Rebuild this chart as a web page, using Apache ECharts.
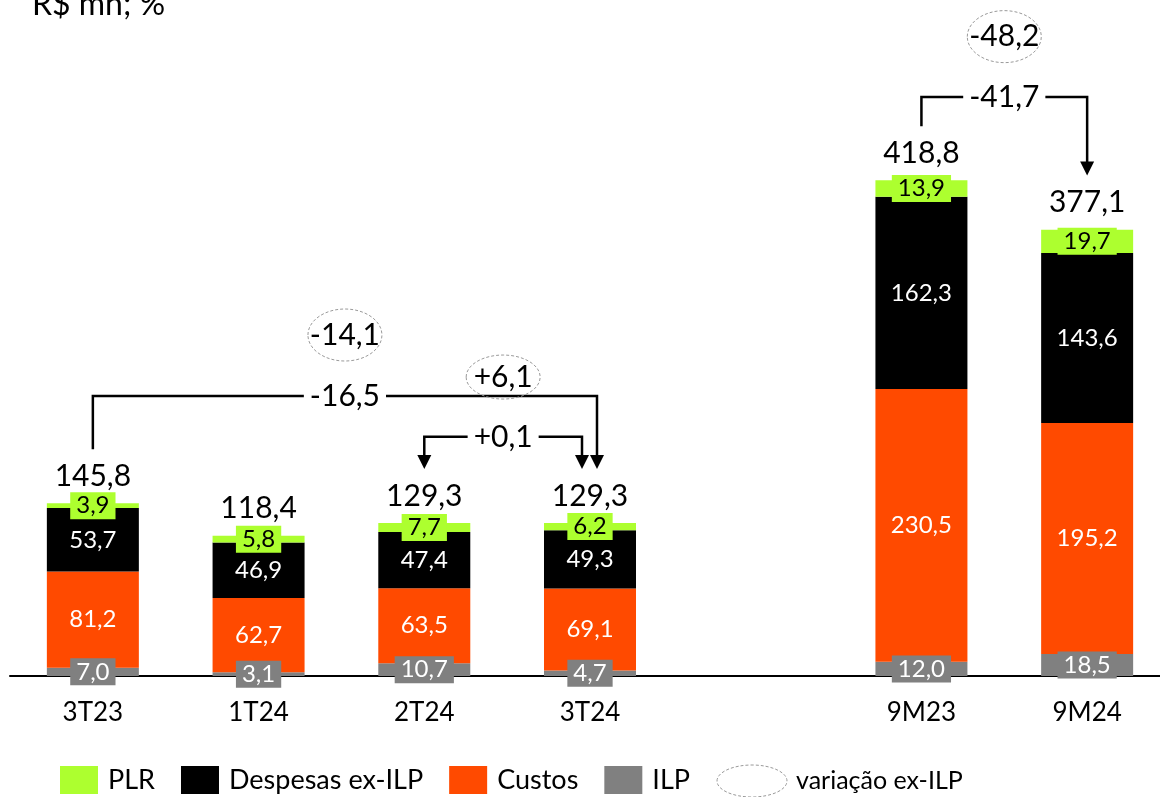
<!DOCTYPE html>
<html>
<head>
<meta charset="utf-8">
<script src="https://cdn.jsdelivr.net/npm/echarts@6/dist/echarts.min.js"></script>
<style>
  html, body { margin: 0; padding: 0; background: #fff; }
  #chart { width: 1160px; height: 797px; }
</style>
</head>
<body>
<div id="chart"></div>
<script>
// dados (R$ mn)
const categories = ['3T23', '1T24', '2T24', '3T24', '', '9M23', '9M24'];
const ilp      = [7.0, 3.1, 10.7, 4.7, null, 12.0, 18.5];
const custos   = [81.2, 62.7, 63.5, 69.1, null, 230.5, 195.2];
const despesas = [53.7, 46.9, 47.4, 49.3, null, 162.3, 143.6];
const plr      = [3.9, 5.8, 7.7, 6.2, null, 13.9, 19.7];
const totals   = [145.8, 118.4, 129.3, 129.3, null, 418.8, 377.1];

// variações: de -> para, valor total e ex-ILP
const varFrom  = [0, 2, 5];
const varTo    = [3, 3, 6];
const varTotal = ['-16,5', '+0,1', '-41,7'];
const varExIlp = ['-14,1', '+6,1', '-48,2'];

const FONT = 'Lato';
const GREEN = '#adff2f';
const ORANGE = '#ff4a00';
const GREY = '#808080';

const fmt = v => (v == null ? '' : v.toFixed(1).replace('.', ','));

const chart = echarts.init(document.getElementById('chart'));

function segLabel(color, bg) {
  const l = {
    show: true,
    position: 'inside',
    color: color,
    fontFamily: FONT,
    fontSize: 24,
    formatter: p => fmt(p.value)
  };
  if (bg) {
    l.backgroundColor = bg;
    l.padding = [2, 6, 1, 6];
  }
  return l;
}

const option = {
  animation: false,
  textStyle: { fontFamily: FONT },
  grid: { left: 10, width: 1160, top: 84, bottom: 121, outerBoundsMode: 'none' },
  legend: {
    data: ['PLR', 'Despesas ex-ILP', 'Custos', 'ILP'],
    left: 60,
    top: 766,
    padding: 0,
    itemWidth: 38,
    itemHeight: 28,
    itemGap: 26,
    icon: 'rect',
    selectedMode: false,
    textStyle: { fontFamily: FONT, fontSize: 27, color: '#000', padding: [0, 0, 0, 5] }
  },
  xAxis: {
    type: 'category',
    data: categories,
    axisLine: { lineStyle: { color: '#000', width: 2 } },
    axisTick: { show: false },
    axisLabel: { color: '#000', fontSize: 26, fontFamily: FONT, margin: 24 }
  },
  yAxis: { type: 'value', min: 0, max: 500, show: false },
  series: [
    { name: 'ILP', type: 'bar', stack: 'a', barWidth: 92, data: ilp,
      itemStyle: { color: GREY }, label: segLabel('#fff', GREY) },
    { name: 'Custos', type: 'bar', stack: 'a', data: custos,
      itemStyle: { color: ORANGE }, label: segLabel('#fff') },
    { name: 'Despesas ex-ILP', type: 'bar', stack: 'a', data: despesas,
      itemStyle: { color: '#000' }, label: segLabel('#fff') },
    { name: 'PLR', type: 'bar', stack: 'a', data: plr,
      itemStyle: { color: GREEN }, label: segLabel('#000', GREEN) },
    { name: 'Total', type: 'scatter', data: totals, symbolSize: 0, z: 5,
      itemStyle: { opacity: 1 },
      label: { show: true, position: 'top', distance: 12, color: '#000',
               fontFamily: FONT, fontSize: 30, formatter: p => fmt(p.value) } }
  ]
};
chart.setOption(option);

// anotações: colchetes, setas e elipses
function pt(i, v) { return chart.convertToPixel({ gridIndex: 0 }, [i, v]); }

function arrowHead(x, tip) {
  return { type: 'polygon', z: 10, shape: { points: [[x - 7, tip - 14], [x + 7, tip - 14], [x, tip]] },
           style: { fill: '#000' } };
}

function drawNotes() {
  const els = [];
  const lineStyle = { stroke: '#000', lineWidth: 2.5, fill: null };
  const levels = [236.5, 202, 489];
  const ovals = [288, 252.5, 540];
  const toShift = [7, -8, 0];
  const fromArrow = [false, true, false];

  for (let k = 0; k < varFrom.length; k++) {
    const a = pt(varFrom[k], totals[varFrom[k]]);
    const b = pt(varTo[k], totals[varTo[k]]);
    const yl = pt(0, levels[k])[1];
    const x1 = a[0], x2 = b[0] + toShift[k];
    const y1 = a[1] - 54, y2 = b[1] - 54;
    els.push({ type: 'polyline', z: 9,
      shape: { points: [[x1, fromArrow[k] ? y1 - 12 : y1], [x1, yl], [x2, yl], [x2, y2 - 12]] },
      style: lineStyle });
    els.push(arrowHead(x2, y2));
    if (fromArrow[k]) els.push(arrowHead(x1, y1));
    const cx = (a[0] + b[0] + toShift[k]) / 2;
    els.push({ type: 'text', z: 11, style: { text: varTotal[k], x: cx, y: yl, align: 'center',
      verticalAlign: 'middle', font: '30px ' + FONT, fill: '#000', backgroundColor: '#fff', padding: [0, 6] } });
    const oy = pt(0, ovals[k])[1];
    els.push({ type: 'ellipse', z: 11, shape: { cx: cx, cy: oy, rx: 37, ry: k === 1 ? 22 : 26 },
      style: { fill: null, stroke: '#999', lineWidth: 1, lineDash: [3, 2] } });
    els.push({ type: 'text', z: 12, style: { text: varExIlp[k], x: cx, y: oy, align: 'center',
      verticalAlign: 'middle', font: '30px ' + FONT, fill: '#000' } });
  }

  // título e item de legenda "variação ex-ILP"
  els.push({ type: 'text', style: { text: 'R$ mn; %', x: 32, y: 5, align: 'left', verticalAlign: 'middle',
    font: '32px ' + FONT, fill: '#000' } });
  els.push({ type: 'ellipse', shape: { cx: 752, cy: 781, rx: 35, ry: 16 },
    style: { fill: null, stroke: '#999', lineWidth: 1, lineDash: [3, 2] } });
  els.push({ type: 'text', style: { text: 'variação ex-ILP', x: 796, y: 781, align: 'left', verticalAlign: 'middle',
    font: '25px ' + FONT, fill: '#000' } });

  chart.setOption({ graphic: els });
}
drawNotes();
</script>
</body>
</html>
